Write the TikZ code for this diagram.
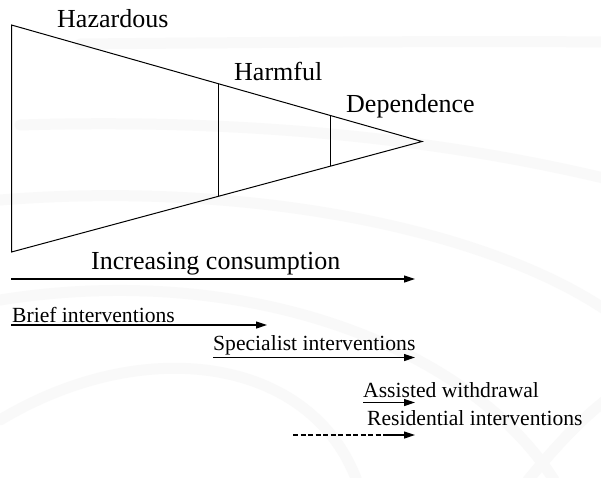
\documentclass[tikz,border=0pt]{standalone}
\usepackage{fontspec}
\setmainfont{Liberation Serif}
\usetikzlibrary{arrows.meta,calc}
\tikzset{
  big/.style={font=\fontsize{26}{30}\selectfont, inner sep=0pt, anchor=base west},
  small/.style={font=\fontsize{21.6}{26}\selectfont, inner sep=0pt, anchor=base west},
  edge/.style={line width=1pt, black},
  arr/.style={line width=1.2pt, black, -{Triangle[length=11pt,width=7pt]}},
  dasharr/.style={line width=1.2pt, black, dash pattern=on 5pt off 2.5pt},
  watermark/.style={line width=11pt, color=black!2.5, line cap=round}
}
\begin{document}
\begin{tikzpicture}[x=1pt,y=-1pt]
\useasboundingbox (0,0) rectangle (601,477);
\fill[white] (0,0) rectangle (601,477);
% faint background arcs
\begin{scope}
\clip (0,0) rectangle (601,477);
\draw[watermark] (80,44) .. controls (300,42) and (450,41) .. (620,42);
\draw[watermark] (20,125) .. controls (250,118) and (450,140) .. (620,182);
\draw[watermark] (0,200) .. controls (250,180) and (500,230) .. (620,320);
\draw[watermark] (0,300) .. controls (250,260) and (480,350) .. (560,490);
\draw[watermark] (0,420) .. controls (150,330) and (320,360) .. (360,490);
\draw[watermark] (520,490) .. controls (560,440) and (590,410) .. (620,390);
\end{scope}
% triangle
\coordinate (TL) at (11.5,25);
\coordinate (BL) at (11.5,252);
\coordinate (AP) at (422,141.5);
\draw[edge] (TL) -- (AP) -- (BL) -- cycle;
\coordinate (h1t) at ($(TL)!0.505!(AP)$);
\coordinate (h1b) at ($(BL)!0.505!(AP)$);
\coordinate (h2t) at ($(TL)!0.778!(AP)$);
\coordinate (h2b) at ($(BL)!0.778!(AP)$);
\draw[edge] (h1t) -- (h1b);
\draw[edge] (h2t) -- (h2b);
% labels
\node[big] (haz) at (57,27) {Hazardous};
\node[big] (harm) at (234,80) {Harmful};
\node[big] (dep) at (346,112) {Dependence};
\node[big] (inc) at (91,269) {Increasing consumption};
\node[small] (brief) at (12,322) {Brief interventions};
\node[small] (spec) at (213,350) {Specialist interventions};
\node[small] (assist) at (363,397) {Assisted withdrawal};
\node[small] (resid) at (367,425) {Residential interventions};
% arrows
\coordinate (incS) at (11,279);  \coordinate (incE) at (415,279);
\coordinate (brS) at (11,325);   \coordinate (brE) at (267,325);
\coordinate (spS) at (213,357.5); \coordinate (spE) at (415,357.5);
\coordinate (asS) at (363,402.5); \coordinate (asE) at (415,402.5);
\coordinate (reS) at (293,435);  \coordinate (reM) at (388,435); \coordinate (reE) at (415,435);
\draw[arr] (incS) -- (incE);
\draw[arr] (brS) -- (brE);
\draw[arr] (spS) -- (spE);
\draw[arr] (asS) -- (asE);
\draw[dasharr] (reS) -- (reM);
\draw[arr] (reM) -- (reE);
\end{tikzpicture}
\end{document}
